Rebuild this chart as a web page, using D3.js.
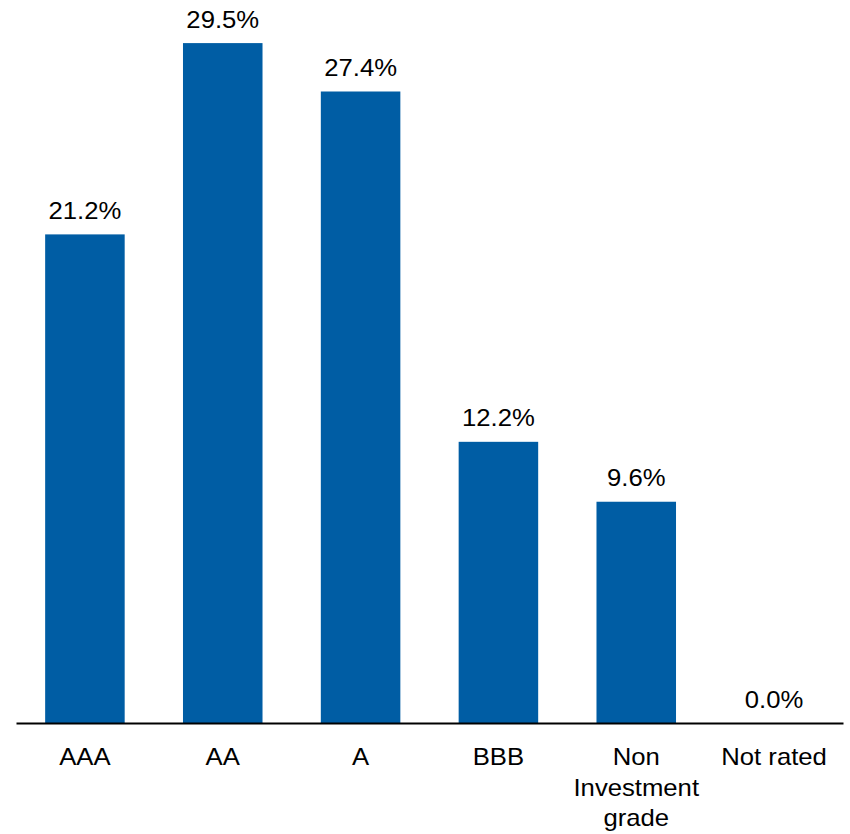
<!DOCTYPE html>
<html>
<head>
<meta charset="utf-8">
<script src="https://cdn.jsdelivr.net/npm/d3@7"></script>
<style>
  html, body { margin: 0; padding: 0; background: #fff; }
  svg { display: block; }
  text { font-family: "Liberation Sans", Arial, sans-serif; fill: #000; }
</style>
</head>
<body>
<svg id="chart" width="850" height="834"></svg>
<script>
const categories = ["AAA", "AA", "A", "BBB", "Non Investment grade", "Not rated"];
const categoryLines = [["AAA"], ["AA"], ["A"], ["BBB"], ["Non", "Investment", "grade"], ["Not rated"]];
const values = [21.2, 29.5, 27.4, 12.2, 9.6, 0.0];
const valueLabels = ["21.2%", "29.5%", "27.4%", "12.2%", "9.6%", "0.0%"];

const W = 850, H = 834;
const baseY = 723;
const svg = d3.select("#chart");

const x = d3.scaleBand()
  .domain(categories)
  .range([16, 843])
  .paddingInner(0.423)
  .paddingOuter(0.2115);

const y = d3.scaleLinear()
  .domain([0, 31.37])
  .range([baseY, 0]);

const sx = 1.07;

// bars
svg.append("g").selectAll("rect")
  .data(values)
  .join("rect")
  .attr("x", (d, i) => x(categories[i]))
  .attr("y", d => y(d))
  .attr("width", x.bandwidth())
  .attr("height", d => baseY - y(d))
  .attr("fill", "#005DA4");

// value labels
svg.append("g").selectAll("text")
  .data(values)
  .join("text")
  .attr("transform", (d, i) => `translate(${x(categories[i]) + x.bandwidth() / 2},${y(d) - 15.5}) scale(${sx},1)`)
  .attr("text-anchor", "middle")
  .attr("font-size", 24)
  .text((d, i) => valueLabels[i]);

// axis
const axis = d3.axisBottom(x).tickSize(0).tickFormat(() => "");
const ag = svg.append("g").attr("transform", `translate(0,${baseY})`).call(axis);
ag.select(".domain").attr("stroke", "#000").attr("stroke-width", 2);

// category labels
const cg = svg.append("g");
categories.forEach((c, i) => {
  const cx = x(c) + x.bandwidth() / 2;
  categoryLines[i].forEach((line, j) => {
    cg.append("text")
      .attr("transform", `translate(${cx},${765 + j * 30.5}) scale(${sx},1)`)
      .attr("text-anchor", "middle")
      .attr("font-size", 24)
      .text(line);
  });
});
</script>
</body>
</html>
